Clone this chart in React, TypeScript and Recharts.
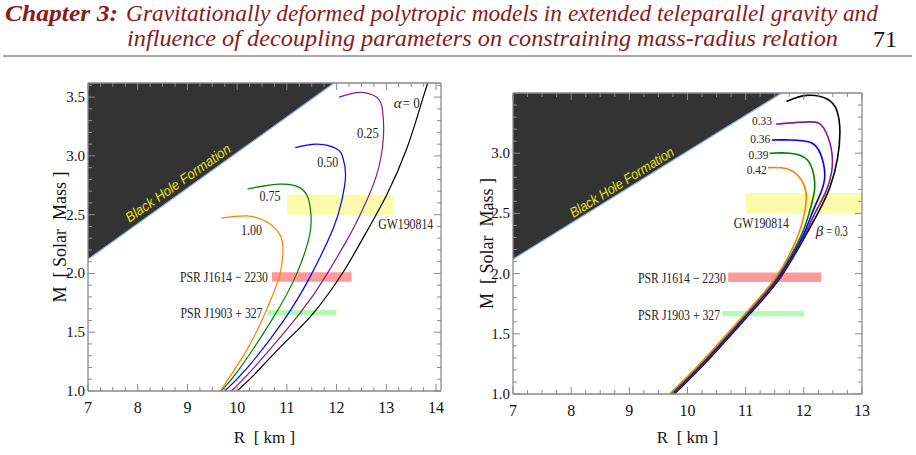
import React from 'react';
import { ComposedChart, Line, Area, XAxis, YAxis, ReferenceArea, ReferenceDot } from 'recharts';

type Pt = [number, number]; // [R km, M solar]

// left panel: alpha family
const alpha000: Pt[] = [[10.0, 1.0], [10.3, 1.12], [10.59, 1.25], [11.05, 1.45], [11.53, 1.66], [12.13, 2.01], [12.57, 2.33], [13.0, 2.66], [13.41, 3.06], [13.67, 3.4], [13.84, 3.63]];
const alpha025: Pt[] = [[9.88, 1.0], [10.32, 1.19], [11.26, 1.66], [11.8, 1.99], [12.27, 2.33], [12.53, 2.55], [12.8, 2.83], [12.94, 3.15], [12.92, 3.4], [12.8, 3.5], [12.47, 3.54], [12.05, 3.5]];
const alpha050: Pt[] = [[9.75, 1.0], [10.19, 1.19], [10.92, 1.59], [11.49, 1.99], [11.93, 2.38], [12.1, 2.61], [12.18, 2.83], [12.13, 2.98], [12.0, 3.06], [11.6, 3.1], [11.17, 3.07]];
const alpha075: Pt[] = [[9.68, 1.0], [10.05, 1.19], [10.72, 1.62], [11.19, 1.99], [11.46, 2.33], [11.48, 2.52], [11.43, 2.64], [11.26, 2.73], [10.86, 2.76], [10.21, 2.72]];
const alpha100: Pt[] = [[9.66, 1.0], [10.25, 1.39], [10.66, 1.76], [10.86, 1.99], [10.92, 2.18], [10.86, 2.33], [10.59, 2.44], [10.19, 2.49], [9.68, 2.47]];

// right panel: beta family
const beta030: Pt[] = [[9.77, 1.0], [10.33, 1.27], [11.08, 1.67], [11.6, 1.97], [12.0, 2.29], [12.24, 2.5], [12.45, 2.72], [12.58, 2.96], [12.62, 3.18], [12.57, 3.35], [12.4, 3.45], [12.05, 3.48], [11.7, 3.43]];
const beta033: Pt[] = [[9.75, 1.0], [10.31, 1.27], [11.06, 1.67], [11.58, 1.97], [11.98, 2.29], [12.19, 2.5], [12.37, 2.67], [12.48, 2.85], [12.47, 3.04], [12.34, 3.21], [12.11, 3.26], [11.52, 3.24]];
const beta036: Pt[] = [[9.73, 1.0], [10.29, 1.27], [11.04, 1.67], [11.56, 1.97], [11.96, 2.29], [12.14, 2.5], [12.29, 2.67], [12.36, 2.82], [12.29, 2.99], [12.11, 3.09], [11.76, 3.11], [11.45, 3.11]];
const beta039: Pt[] = [[9.71, 1.0], [10.27, 1.27], [11.02, 1.67], [11.54, 1.97], [11.93, 2.29], [12.09, 2.5], [12.18, 2.68], [12.17, 2.82], [12.05, 2.95], [11.76, 3.0], [11.41, 3.0]];
const beta042: Pt[] = [[9.69, 1.0], [10.25, 1.27], [11.0, 1.67], [11.52, 1.97], [11.88, 2.29], [12.01, 2.5], [12.04, 2.66], [11.94, 2.79], [11.71, 2.87], [11.38, 2.88]];

// black hole formation boundary
const bhLeft: Pt[] = [[7, 2.12], [11.95, 3.62]];
const bhRight: Pt[] = [[7, 2.12], [11.62, 3.5]];

// observational bands [R1, R2, M1, M2]
const gw190814 = [11.0, 13.15, 2.5, 2.67];
const psrJ1614 = [10.7, 12.3, 1.93, 2.01];
const psrJ1903 = [10.6, 12.0, 1.645, 1.69];

const curveNamesLeft = ['α = 0', '0.25', '0.50', '0.75', '1.00'];
const curveNamesRight = ['β = 0.3', '0.33', '0.36', '0.39', '0.42'];
const curveColors = ['#000000', '#8b1a8b', '#0000ff', '#008000', '#ff8000'];

const SERIF = "'Liberation Serif', 'Times New Roman', serif";
const FRAME = '#8a8a8a';
const RED = '#8b1a1a';

const rows = (pts: Pt[]) => pts.map(([r, m]) => ({ r, m }));
const steps = (a: number, b: number, s: number) => {
  const out: number[] = [];
  for (let v = a; v <= b + 1e-9; v += s) out.push(Math.round(v * 1000) / 1000);
  return out;
};
const isXMajor = (v: number) => Math.abs(v - Math.round(v)) < 1e-6;
const isYMajor = (v: number) => Math.abs(v * 2 - Math.round(v * 2)) < 1e-6;

const frameTick = (side: 'bottom' | 'top' | 'left' | 'right') => (props: any) => {
  const { x, y, payload } = props;
  const v = payload.value as number;
  const major = side === 'bottom' || side === 'top' ? isXMajor(v) : isYMajor(v);
  const len = major ? 7 : 4;
  let line: React.ReactNode = null;
  let label: React.ReactNode = null;
  if (side === 'bottom') {
    line = <line x1={x} y1={y} x2={x} y2={y - len} stroke={FRAME} />;
    if (major) label = <text x={x} y={y + 22} textAnchor="middle" fontFamily={SERIF} fontSize={16} fill="#111">{v}</text>;
  } else if (side === 'top') {
    line = <line x1={x} y1={y} x2={x} y2={y + len} stroke={FRAME} />;
  } else if (side === 'left') {
    line = <line x1={x} y1={y} x2={x + len} y2={y} stroke={FRAME} />;
    if (major) label = <text x={x - 3} y={y + 5} textAnchor="end" fontFamily={SERIF} fontSize={15} fill="#111">{v.toFixed(1)}</text>;
  } else {
    line = <line x1={x} y1={y} x2={x - len} y2={y} stroke={FRAME} />;
  }
  return <g>{line}{label}</g>;
};

const Tag = ({ cx, cy, text, width, anchor = 'middle', size = 15, color = '#222', italic = false, angle = 0, family = SERIF }: any) => (
  <text
    x={cx}
    y={cy}
    dy="0.35em"
    textAnchor={anchor}
    fontFamily={family}
    fontSize={size}
    fontStyle={italic ? 'italic' : 'normal'}
    fill={color}
    textLength={width}
    lengthAdjust="spacingAndGlyphs"
    transform={angle ? `rotate(${angle}, ${cx}, ${cy})` : undefined}
  >
    {text}
  </text>
);

// "α = 0" style label: italic greek letter followed by upright rest, as two texts
const GreekTag = ({ cx, cy, text, width, size = 15 }: any) => {
  const left = cx - width / 2;
  const lw = width * 0.3;
  return (
    <g>
      <text x={left} y={cy} dy="0.35em" fontFamily={SERIF} fontSize={size} fontStyle="italic" fill="#222">{text[0]}</text>
      <text x={left + lw + 1} y={cy} dy="0.35em" fontFamily={SERIF} fontSize={size} fill="#222" textLength={width - lw - 1} lengthAdjust="spacingAndGlyphs">{text.slice(2)}</text>
    </g>
  );
};

const note = (key: string, r: number, m: number, opts: any) => (
  <ReferenceDot key={key} x={r} y={m} r={0} shape={(p: any) => <Tag cx={p.cx} cy={p.cy} {...opts} />} />
);

const curveNote = (key: string, r: number, m: number, text: string, width: number, size: number) => (
  <ReferenceDot
    key={key}
    x={r}
    y={m}
    r={0}
    shape={(p: any) =>
      text.startsWith('α') || text.startsWith('β') ? (
        <GreekTag cx={p.cx} cy={p.cy} text={text} width={width} size={size} />
      ) : (
        <Tag cx={p.cx} cy={p.cy} text={text} width={width} size={size} />
      )
    }
  />
);

const band = (b: number[], fill: string) => (
  <ReferenceArea x1={b[0]} x2={b[1]} y1={b[2]} y2={b[3]} fill={fill} fillOpacity={1} stroke="none" ifOverflow="hidden" />
);

const Panel = (cfg: any) => {
  const { left, width, top, bottom, yLeftW, yRightW, marginLeft, marginRight, xDomain, yDomain, curves, names, labels, labelSize, bh, bhAngle, bhAt, bhLen, gwAt, psr1614At, psr1903At, lineW } = cfg;
  const xt = steps(xDomain[0], Math.floor(xDomain[1]), 0.25);
  const yt = steps(1, yDomain[1] - 0.001, 0.1);
  return (
    <div style={{ position: 'absolute', left, top: 0 }}>
      <ComposedChart width={width} height={455} margin={{ top: 0, right: marginRight, bottom: 0, left: marginLeft }}>
        <XAxis xAxisId={0} dataKey="r" type="number" domain={xDomain} allowDataOverflow ticks={xt} interval={0} height={455 - bottom} tickSize={0} tickMargin={0} tickLine={false} axisLine={{ stroke: FRAME, strokeWidth: 1.3 }} tick={frameTick('bottom')}
          label={{ value: 'R\u00a0\u00a0[\u00a0km\u00a0]', position: 'insideBottom', offset: 12, fontFamily: SERIF, fontSize: 17, fill: '#111' }} />
        <XAxis xAxisId="top" orientation="top" dataKey="r" type="number" domain={xDomain} allowDataOverflow ticks={xt} interval={0} height={top} tickSize={0} tickMargin={0} tickLine={false} axisLine={{ stroke: FRAME, strokeWidth: 1.3 }} tick={frameTick('top')} />
        <YAxis yAxisId={0} type="number" domain={yDomain} allowDataOverflow ticks={yt} interval={0} width={yLeftW} tickSize={0} tickMargin={0} tickLine={false} axisLine={{ stroke: FRAME, strokeWidth: 1.3 }} tick={frameTick('left')}
          label={{ value: 'M\u00a0\u00a0[\u00a0Solar\u00a0\u00a0Mass\u00a0]', position: 'center', angle: -90, fontFamily: SERIF, fontSize: 18, fill: '#111' }} />
        <YAxis yAxisId="right" orientation="right" type="number" domain={yDomain} allowDataOverflow ticks={yt} interval={0} width={yRightW} tickSize={0} tickMargin={0} tickLine={false} axisLine={{ stroke: FRAME, strokeWidth: 1.3 }} tick={frameTick('right')} />

        <Area data={rows(bh)} dataKey="m" type="linear" baseValue="dataMax" fill="#333333" fillOpacity={1} stroke="#8fb3e0" strokeWidth={1.2} dot={false} activeDot={false} isAnimationActive={false} />

        {band(gw190814, '#fbfbab')}
        {band(psrJ1614, '#ff9a9a')}
        {band(psrJ1903, '#b2fcb2')}

        {curves.map((c: Pt[], i: number) => (
          <Line key={names[i]} data={rows(c)} dataKey="m" name={names[i]} type="natural" stroke={curveColors[i]} strokeWidth={lineW} dot={false} activeDot={false} isAnimationActive={false} />
        ))}

        {labels.map((l: number[], i: number) => curveNote('c' + i, l[0], l[1], names[i], l[2], i === 0 ? 15 : labelSize))}
        {note('gw', gwAt[0], gwAt[1], { text: 'GW190814', width: 55 })}
        {note('p1614', psr1614At[0], psr1614At[1], { text: 'PSR J1614 − 2230', width: 88, anchor: 'end' })}
        {note('p1903', psr1903At[0], psr1903At[1], { text: 'PSR J1903 + 327', width: 82, anchor: 'end' })}
        {note('bh', bhAt[0], bhAt[1], { text: 'Black Hole Formation', width: bhLen, angle: bhAngle, italic: true, size: 14, color: '#e2e21a', family: "'Liberation Sans', sans-serif" })}
      </ComposedChart>
    </div>
  );
};

export default function App() {
  return (
    <div style={{ position: 'absolute', left: 0, top: 0, width: 916, height: 455, background: '#fff', overflow: 'hidden' }}>
      <svg width={916} height={60} style={{ position: 'absolute', left: 0, top: 0 }}>
        <text x={5} y={21} fontFamily={SERIF} fontSize={23} fontStyle="italic" fontWeight="bold" fill={RED} textLength={113} lengthAdjust="spacingAndGlyphs">Chapter 3:</text>
        <text x={126} y={21} fontFamily={SERIF} fontSize={23} fontStyle="italic" fill={RED} textLength={752} lengthAdjust="spacingAndGlyphs">Gravitationally deformed polytropic models in extended teleparallel gravity and</text>
        <text x={127} y={46} fontFamily={SERIF} fontSize={23} fontStyle="italic" fill={RED} textLength={711} lengthAdjust="spacingAndGlyphs">influence of decoupling parameters on constraining mass-radius relation</text>
        <text x={873} y={47} fontFamily={SERIF} fontSize={24} fill="#111">71</text>
        <line x1={3} x2={912} y1={56} y2={56} stroke="#555" strokeWidth={1} />
      </svg>

      <Panel
        left={0} width={460} top={83} bottom={391} yLeftW={56} yRightW={19} marginLeft={32} marginRight={0}
        xDomain={[7, 14.1]} yDomain={[1, 3.62]} lineW={1.2} labelSize={15}
        curves={[alpha000, alpha025, alpha050, alpha075, alpha100]} names={curveNamesLeft}
        labels={[[13.41, 3.45, 26], [12.63, 3.2, 22], [11.82, 2.95, 21], [10.66, 2.66, 21], [10.29, 2.37, 21]]}
        gwAt={[13.39, 2.42]} psr1614At={[10.62, 1.975]} psr1903At={[10.51, 1.668]}
        bh={bhLeft} bhAt={[8.81, 2.77]} bhAngle={-35} bhLen={125}
      />
      <Panel
        left={460} width={456} top={93} bottom={394} yLeftW={53} yRightW={20} marginLeft={0} marginRight={34}
        xDomain={[7, 13]} yDomain={[1, 3.5]} lineW={1.6} labelSize={13}
        curves={[beta030, beta033, beta036, beta039, beta042]} names={curveNamesRight}
        labels={[[12.48, 2.36, 32], [11.28, 3.27, 20], [11.25, 3.12, 20], [11.22, 2.99, 20], [11.19, 2.865, 20]]}
        gwAt={[11.27, 2.42]} psr1614At={[10.66, 1.965]} psr1903At={[10.56, 1.655]}
        bh={bhRight} bhAt={[8.87, 2.76]} bhAngle={-32} bhLen={120}
      />
    </div>
  );
}
